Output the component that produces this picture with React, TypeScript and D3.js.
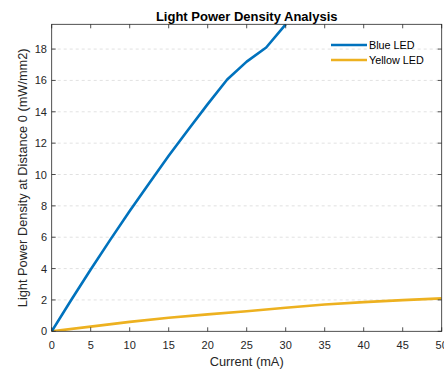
import React from "react";
import * as d3 from "d3";

const currentBlue = [0, 2.5, 5, 7.5, 10, 12.5, 15, 17.5, 20, 22.5, 25, 27.5, 30];
const blueLED = [0, 2.0, 3.94, 5.83, 7.67, 9.45, 11.19, 12.86, 14.49, 16.06, 17.2, 18.1, 19.58];
const currentYellow = [0, 5, 10, 15, 20, 25, 30, 35, 40, 45, 50];
const yellowLED = [0, 0.3, 0.6, 0.86, 1.08, 1.28, 1.5, 1.71, 1.86, 1.99, 2.1];
const xTicks = [0, 5, 10, 15, 20, 25, 30, 35, 40, 45, 50];
const yTicks = [0, 2, 4, 6, 8, 10, 12, 14, 16, 18];
const seriesNames = ["Blue LED", "Yellow LED"];
const seriesColors = ["#0072BD", "#EDB120"];

const W = 444, H = 370;
const L = 51.7, R = 441.7, T = 24.3, B = 331.3;
const font = "'Liberation Sans', Arial, Helvetica, sans-serif";
const axisColor = "#262626";

export default function App() {
  const x = d3.scaleLinear().domain([0, 50]).range([L, R]);
  const y = d3.scaleLinear().domain([0, 19.58]).range([B, T]);
  const line = d3.line<[number, number]>().x(d => x(d[0])).y(d => y(d[1]));
  const blueData = currentBlue.map((c, i) => [c, blueLED[i]] as [number, number]);
  const yellowData = currentYellow.map((c, i) => [c, yellowLED[i]] as [number, number]);
  const tl = 4;
  return (
    <div style={{ position: "absolute", left: 0, top: 0 }}>
      <svg width={W} height={H} style={{ display: "block", background: "#fff" }}>
        <defs>
          <clipPath id="plotclip">
            <rect x={L} y={T} width={R - L} height={B - T} />
          </clipPath>
        </defs>
        {yTicks.filter(t => t > 0).map(t => (
          <line key={"g" + t} x1={L} x2={R} y1={y(t)} y2={y(t)} stroke="#d9d9d9" strokeWidth={0.8} strokeDasharray="3,3" />
        ))}
        <g clipPath="url(#plotclip)">
          <path d={line(yellowData) || ""} fill="none" stroke={seriesColors[1]} strokeWidth={2.6} strokeLinejoin="round" />
          <path d={line(blueData) || ""} fill="none" stroke={seriesColors[0]} strokeWidth={2.6} strokeLinejoin="round" />
        </g>
        <rect x={L} y={T} width={R - L} height={B - T} fill="none" stroke={axisColor} strokeWidth={0.8} />
        {xTicks.map(t => (
          <g key={"x" + t}>
            <line x1={x(t)} x2={x(t)} y1={B} y2={B - tl} stroke={axisColor} strokeWidth={0.8} />
            <line x1={x(t)} x2={x(t)} y1={T} y2={T + tl} stroke={axisColor} strokeWidth={0.8} />
            <text x={x(t)} y={349} textAnchor="middle" fontFamily={font} fontSize={11} fill={axisColor}>{t}</text>
          </g>
        ))}
        {yTicks.map(t => (
          <g key={"y" + t}>
            <line x1={L} x2={L + tl} y1={y(t)} y2={y(t)} stroke={axisColor} strokeWidth={0.8} />
            <line x1={R} x2={R - tl} y1={y(t)} y2={y(t)} stroke={axisColor} strokeWidth={0.8} />
            <text x={47} y={y(t) + 4} textAnchor="end" fontFamily={font} fontSize={11} fill={axisColor}>{t}</text>
          </g>
        ))}
        <text x={(L + R) / 2} y={366} textAnchor="middle" fontFamily={font} fontSize={12.8} fill={axisColor}>Current (mA)</text>
        <text transform={`translate(27,${(T + B) / 2}) rotate(-90)`} textAnchor="middle" fontFamily={font} fontSize={12.8} fill={axisColor}>Light Power Density at Distance 0 (mW/mm2)</text>
        <text x={(L + R) / 2} y={20.5} textAnchor="middle" fontFamily={font} fontSize={13} fontWeight="bold" fill="#000">Light Power Density Analysis</text>
        {seriesNames.map((n, i) => (
          <g key={n}>
            <line x1={331} x2={367} y1={45 + i * 15} y2={45 + i * 15} stroke={seriesColors[i]} strokeWidth={2.6} />
            <text x={369} y={45 + i * 15 + 3.8} fontFamily={font} fontSize={10.8} fill="#000">{n}</text>
          </g>
        ))}
      </svg>
    </div>
  );
}
